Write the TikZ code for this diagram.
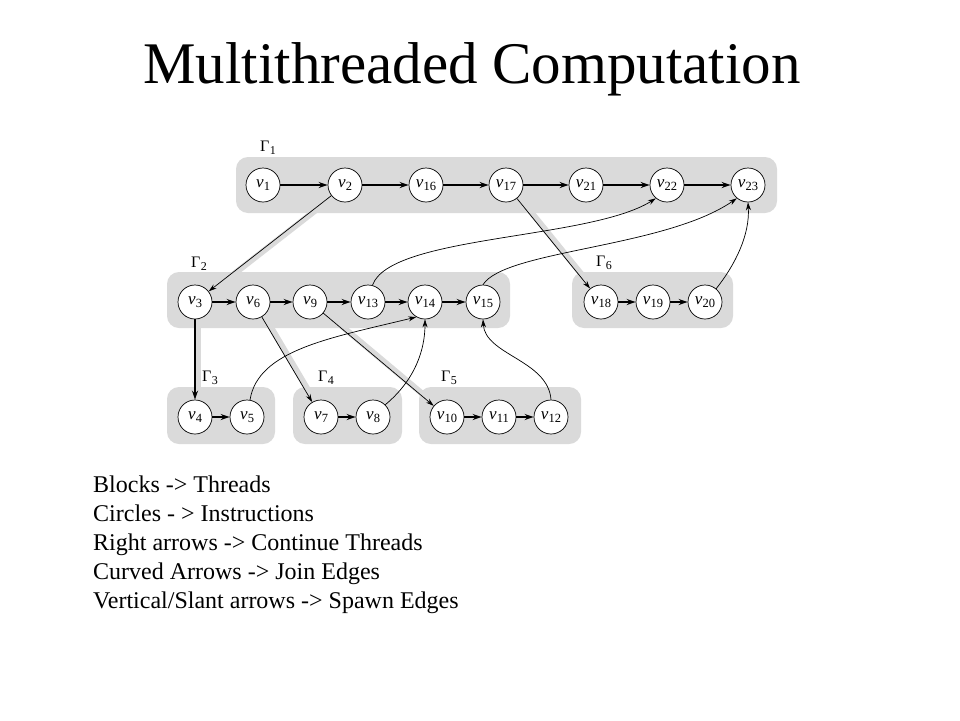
\documentclass[tikz,border=0pt]{standalone}
\usepackage{fontspec}
\setmainfont{Liberation Serif}
\usetikzlibrary{arrows.meta}
\definecolor{blk}{RGB}{218,218,218}
\newcommand\vl[1]{\textit{v}\kern0.2pt\raisebox{-2.5pt}{\fontsize{12.5}{12.5}\selectfont #1}}
\newcommand\gl[1]{Γ\kern0.3pt\raisebox{-2.5pt}{\fontsize{12}{12}\selectfont #1}}
\pgfdeclarelayer{bg}
\pgfdeclarelayer{bandlayer}
\pgfsetlayers{bg,bandlayer,main}
\tikzset{
  vert/.style={circle, draw, line width=0.7pt, fill=white, minimum size=34pt, inner sep=0pt, font=\fontsize{17}{17}\selectfont},
  cont/.style={line width=1.6pt, -{Stealth[length=9pt,width=6pt]}},
  joinedge/.style={line width=0.7pt, -{Stealth[length=8pt,width=5pt]}},
  spawnedge/.style={line width=0.7pt, -{Stealth[length=8pt,width=5pt]}},
  bandline/.style={line width=6pt, draw=blk, transform canvas={xshift=3pt}},
  block/.style={fill=blk, rounded corners=12pt},
  glab/.style={font=\fontsize{16}{16}\selectfont, inner sep=0pt},
  txt/.style={anchor=base west, inner sep=0pt, font=\fontsize{24}{24}\selectfont}
}
\begin{document}
\begin{tikzpicture}[x=1pt, y=-1pt]
\useasboundingbox (0,0) rectangle (960,720);

% title
\node[anchor=base, inner sep=0pt, font=\fontsize{59}{59}\selectfont] (title) at (472,83) {Multithreaded Computation};

% blocks
\begin{pgfonlayer}{bg}
\fill[white] (0,0) rectangle (960,720);
\path[block] (236,157) rectangle (777,213);
\path[block] (167,272) rectangle (510,328);
\path[block] (572,272) rectangle (733,328);
\path[block] (167,387) rectangle (275,444);
\path[block] (293,387) rectangle (402,444);
\path[block] (419,387) rectangle (581,444);
\end{pgfonlayer}

% labels
\node[glab] (g1) at (268,148) {\gl{1}};
\node[glab] (g2) at (199,264) {\gl{2}};
\node[glab] (g6) at (604,263) {\gl{6}};
\node[glab] (g3) at (210,378) {\gl{3}};
\node[glab] (g4) at (326,378) {\gl{4}};
\node[glab] (g5) at (449,378) {\gl{5}};

% row 1
\node[vert] (v1) at (263,185) {\vl{1}};
\node[vert] (v2) at (345,185) {\vl{2}};
\node[vert] (v16) at (426,185) {\vl{16}};
\node[vert] (v17) at (506,185) {\vl{17}};
\node[vert] (v21) at (586,185) {\vl{21}};
\node[vert] (v22) at (667,185) {\vl{22}};
\node[vert] (v23) at (748,185) {\vl{23}};
% row 2
\node[vert] (v3) at (195,302) {\vl{3}};
\node[vert] (v6) at (253,302) {\vl{6}};
\node[vert] (v9) at (310,302) {\vl{9}};
\node[vert] (v13) at (368,302) {\vl{13}};
\node[vert] (v14) at (425,302) {\vl{14}};
\node[vert] (v15) at (483,302) {\vl{15}};
\node[vert] (v18) at (601,302) {\vl{18}};
\node[vert] (v19) at (653,302) {\vl{19}};
\node[vert] (v20) at (705,302) {\vl{20}};
% row 3
\node[vert] (v4) at (195,417) {\vl{4}};
\node[vert] (v5) at (247,417) {\vl{5}};
\node[vert] (v7) at (321,417) {\vl{7}};
\node[vert] (v8) at (373,417) {\vl{8}};
\node[vert] (v10) at (447,417) {\vl{10}};
\node[vert] (v11) at (499,417) {\vl{11}};
\node[vert] (v12) at (551,417) {\vl{12}};

% spawn bands
\begin{pgfonlayer}{bandlayer}
\draw[bandline] (v2.center) -- (v3.center);
\draw[bandline] (v17.center) -- (v18.center);
\draw[bandline] (v3.center) -- (v4.center);
\draw[bandline] (v6.center) -- (v7.center);
\draw[bandline] (v9.center) -- (v10.center);
\end{pgfonlayer}

% continuation edges
\draw[cont] (v1) -- (v2);
\draw[cont] (v2) -- (v16);
\draw[cont] (v16) -- (v17);
\draw[cont] (v17) -- (v21);
\draw[cont] (v21) -- (v22);
\draw[cont] (v22) -- (v23);
\draw[cont] (v3) -- (v6);
\draw[cont] (v6) -- (v9);
\draw[cont] (v9) -- (v13);
\draw[cont] (v13) -- (v14);
\draw[cont] (v14) -- (v15);
\draw[cont] (v18) -- (v19);
\draw[cont] (v19) -- (v20);
\draw[cont] (v4) -- (v5);
\draw[cont] (v7) -- (v8);
\draw[cont] (v10) -- (v11);
\draw[cont] (v11) -- (v12);

% spawn edges
\draw[spawnedge] (v2) -- (v3);
\draw[spawnedge] (v17) -- (v18);
\draw[cont, line width=2pt] (v3) -- (v4);
\draw[spawnedge] (v6) -- (v7);
\draw[spawnedge] (v9) -- (v10);

% join edges
\draw[joinedge] (v13.75) .. controls (390,235) and (590,240) .. (v22.230);
\draw[joinedge] (v15.north) .. controls (505,250) and (665,248) .. (v23.230);
\draw[joinedge] (v20.50) .. controls (735,265) and (750,235) .. (v23.south);
\draw[joinedge] (v5.80) .. controls (258,350) and (330,338) .. (v14.240);
\draw[joinedge] (v8.45) .. controls (415,380) and (425,350) .. (v14.south);
\draw[joinedge] (v12.north) .. controls (548,360) and (485,355) .. (v15.south);

% legend text
\node[txt] (t1) at (93,492) {Blocks -> Threads};
\node[txt] (t2) at (93,521) {Circles - > Instructions};
\node[txt] (t3) at (93,550) {Right arrows -> Continue Threads};
\node[txt] (t4) at (93,579) {Curved Arrows -> Join Edges};
\node[txt] (t5) at (93,608) {Vertical/Slant arrows -> Spawn Edges};
\end{tikzpicture}
\end{document}
